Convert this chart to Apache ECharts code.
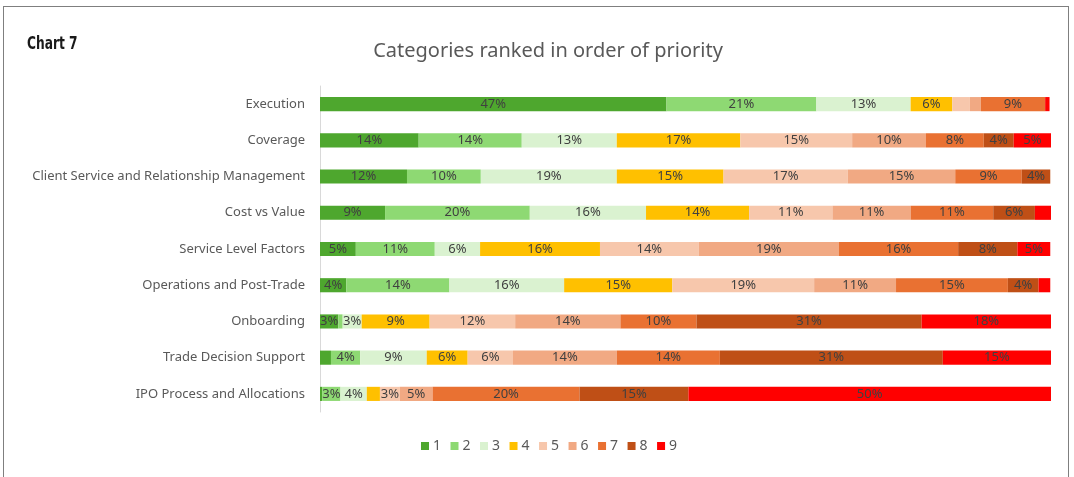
<!DOCTYPE html>
<html>
<head>
<meta charset="utf-8">
<title>Chart 7</title>
<script src="https://cdn.jsdelivr.net/npm/echarts@6/dist/echarts.min.js"></script>
<style>
  html, body {
    margin: 0;
    padding: 0;
    background: #fff;
    overflow: hidden;
  }
  #chart {
    width: 1074px;
    height: 477px;
  }
  .frame {
    position: absolute;
    left: 3px;
    top: 6px;
    width: 1064px;
    height: 500px;
    border: 1px solid #7f7f7f;
    pointer-events: none;
  }
  .chart-no {
    position: absolute;
    left: 27px;
    top: 33px;
    font-family: 'DejaVu Sans Condensed', 'Liberation Sans Narrow', sans-serif;
    font-weight: bold;
    font-size: 17px;
    color: #1a1a1a;
    transform: scaleX(0.8);
    transform-origin: left top;
  }
</style>
</head>
<body>
<div id="chart"></div>
<div class="frame"></div>
<div class="chart-no">Chart 7</div>
<script>
const categories = [
  'Execution',
  'Coverage',
  'Client Service and Relationship Management',
  'Cost vs Value',
  'Service Level Factors',
  'Operations and Post-Trade',
  'Onboarding',
  'Trade Decision Support',
  'IPO Process and Allocations',
];

// share of respondents giving each rank (1 = top priority), per category, in %
const rank1 = [47.4, 13.5, 11.9, 8.9, 4.9, 3.6, 2.5, 1.5, 0.3];
const rank2 = [20.5, 14.1, 10.1, 19.8, 10.8, 14.1, 0.6, 4.0, 2.5];
const rank3 = [12.9, 13.0, 18.6, 15.9, 6.2, 15.7, 2.6, 9.1, 3.6];
const rank4 = [5.7, 16.9, 14.6, 14.1, 16.4, 14.8, 9.3, 5.6, 1.8];
const rank5 = [2.4, 15.3, 17.0, 11.4, 13.5, 19.4, 11.7, 6.2, 2.7];
const rank6 = [1.5, 10.1, 14.7, 10.7, 19.2, 11.2, 14.4, 14.2, 4.5];
const rank7 = [8.8, 7.9, 9.1, 11.3, 16.3, 15.3, 10.4, 14.1, 20.1];
const rank8 = [0, 4.1, 3.9, 5.7, 8.1, 4.2, 30.8, 30.5, 14.9];
const rank9 = [0.6, 5.1, 0, 2.3, 4.5, 1.6, 17.7, 14.8, 49.6];

const rankNames = ['1', '2', '3', '4', '5', '6', '7', '8', '9'];
const rankData = [rank1, rank2, rank3, rank4, rank5, rank6, rank7, rank8, rank9];
const colors = ['#4ea72e', '#8ed973', '#daf2d0', '#ffc000', '#f7c7ac', '#f1a983', '#e97132', '#bf4f16', '#ff0000'];

const chart = echarts.init(document.getElementById('chart'));

const series = rankNames.map((name, i) => ({
  name,
  type: 'bar',
  stack: 'total',
  barCategoryGap: '61%',
  data: rankData[i],
  itemStyle: {
    color: colors[i],
  },
  label: {
    show: true,
    position: 'inside',
    color: '#404040',
    fontSize: 13,
    fontFamily: 'Noto Sans, sans-serif',
    formatter(p) {
      return p.value >= 2.5 ? `${Math.round(p.value)}%` : '';
    },
  },
  emphasis: {
    disabled: true,
  },
}));

const option = {
  animation: false,
  color: colors,
  title: {
    text: 'Categories ranked in order of priority',
    left: 543,
    top: 36,
    textAlign: 'center',
    textStyle: {
      color: '#595959',
      fontSize: 20,
      fontWeight: 'normal',
      fontFamily: 'Noto Sans, sans-serif',
    },
  },
  legend: {
    top: 434,
    left: 416,
    itemWidth: 8,
    itemHeight: 8,
    itemGap: 9.5,
    icon: 'rect',
    textStyle: {
      color: '#595959',
      fontSize: 14,
      fontFamily: 'Noto Sans, sans-serif',
      padding: [0, 0, 0, -1],
    },
    data: rankNames,
  },
  grid: {
    left: 320,
    right: 23,
    top: 86,
    bottom: 65,
    containLabel: false,
  },
  xAxis: {
    type: 'value',
    min: 0,
    max: 100,
    show: false,
  },
  yAxis: {
    type: 'category',
    inverse: true,
    data: categories,
    axisLine: {
      show: true,
      lineStyle: { color: '#d9d9d9', width: 1 },
    },
    axisTick: { show: false },
    axisLabel: {
      color: '#595959',
      fontSize: 13,
      margin: 15,
      fontFamily: 'Noto Sans, sans-serif',
    },
  },
  series,
};

chart.setOption(option);
</script>
</body>
</html>
